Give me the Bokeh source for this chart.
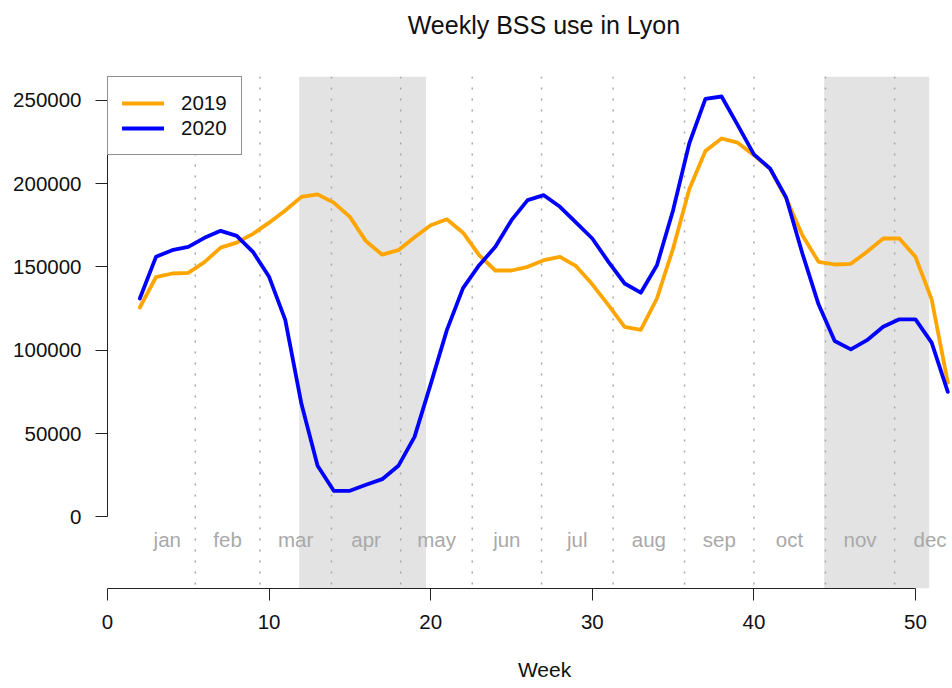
from bokeh.plotting import figure
from bokeh.models import (BoxAnnotation, Span, LinearAxis, FixedTicker, NumeralTickFormatter,
                          Range1d)
from bokeh.core.properties import value
from bokeh.embed import file_html
from bokeh.resources import INLINE

# ---- data ----
weeks = list(range(2, 53))
bss_2019 = [125600, 143800, 146000, 146400, 152800, 161500, 164500, 169800, 176500, 183800,
            192000, 193500, 188500, 180000, 165300, 157300, 160000, 167800, 175000, 178500,
            170500, 157000, 147800, 147800, 150000, 154000, 156000, 150400, 139500, 127000,
            114000, 112200, 131000, 161000, 196500, 219500, 227000, 224500, 217000, 208800,
            191000, 169000, 153000, 151400, 151800, 159000, 167000, 167000, 156000, 130500,
            80500]
bss_2020 = [131000, 156000, 160000, 162000, 167400, 171600, 168600, 159000, 144000, 118200,
            67800, 30600, 15600, 15600, 19200, 22600, 30600, 48000, 79600, 112000,
            137200, 151000, 162000, 178000, 190000, 193000, 186000, 176500, 167000, 153000,
            140000, 134500, 151000, 184000, 224000, 250800, 252200, 235000, 217500, 209000,
            191500, 158000, 127500, 105500, 100500, 106000, 114000, 118500, 118500, 104500,
            75000]
month_names = ["jan", "feb", "mar", "apr", "may", "jun", "jul", "aug", "sep", "oct", "nov", "dec"]
month_label_week = [3.7, 7.43, 11.64, 16.0, 20.36, 24.71, 29.07, 33.5, 37.86, 42.2, 46.57, 50.9]
month_start_week = [5.43, 9.43, 13.86, 18.14, 22.57, 26.86, 31.29, 35.71, 40.0, 44.43, 48.71]
lockdown_start = [11.86, 44.35]
lockdown_end = [19.71, 50.85]
x_ticks = [0, 10, 20, 30, 40, 50]
y_ticks = [0, 50000, 100000, 150000, 200000, 250000]

FONT = "Liberation Sans"
NBSP = "\u00a0"

p = figure(width=952, height=688, output_backend="svg", toolbar_location=None,
           x_range=Range1d(0, 52.29), y_range=Range1d(-43000, 264200),
           min_border_left=107, min_border_right=0, min_border_top=76, min_border_bottom=100)
p.outline_line_color = None
p.grid.visible = False
p.background_fill_color = "white"

for s, e in zip(lockdown_start, lockdown_end):
    p.add_layout(BoxAnnotation(left=s, right=e, fill_color="#e3e3e3", fill_alpha=1,
                               line_color=None, level="underlay"))

for m in month_start_week:
    p.add_layout(Span(location=m, dimension="height", line_color="#a8a8a8",
                      line_width=1.5, line_dash="2 9", level="underlay"))

p.text(x=month_label_week, y=-13400, text=month_names, text_color="#a9a9a9",
       text_font=value(FONT), text_font_size="20.5px", text_align="center",
       text_baseline="alphabetic")

p.line(weeks, bss_2019, line_color="#FFA500", line_width=3.8, line_join="round",
       line_cap="round", legend_label="2019")
p.line(weeks, bss_2020, line_color="#0000FF", line_width=3.8, line_join="round",
       line_cap="round", legend_label="2020")

# legend
lg = p.legend[0]
lg.location = "top_left"
lg.margin = 0
lg.padding = 14
lg.spacing = 1
lg.glyph_width = 42
lg.glyph_height = 20
lg.label_height = 20
lg.label_standoff = 17
lg.label_text_font = FONT
lg.label_text_font_size = "20.5px"
lg.label_text_color = "#111111"
lg.border_line_color = "#222222"
lg.border_line_width = 1
lg.background_fill_alpha = 1

# axes
for ax in (p.xaxis[0], p.yaxis[0]):
    ax.axis_line_color = "#222222"
    ax.major_tick_line_color = "#222222"
    ax.major_tick_out = 12
    ax.major_tick_in = 0
    ax.minor_tick_line_color = None
    ax.major_label_text_font = FONT
    ax.major_label_text_font_size = "20.5px"
    ax.major_label_text_color = "#111111"

p.xaxis.ticker = FixedTicker(ticks=x_ticks)
p.xaxis.bounds = (0, 50)
p.xaxis.major_label_standoff = 14
p.yaxis.ticker = FixedTicker(ticks=y_ticks)
p.yaxis.bounds = (0, 250000)
p.yaxis.formatter = NumeralTickFormatter(format="0")
p.yaxis.major_label_standoff = 14


def label_axis(text, size, standoff):
    ax = LinearAxis(ticker=FixedTicker(ticks=[]), bounds=(26, 28), axis_line_color=None,
                    major_tick_line_color=None, minor_tick_line_color=None,
                    major_tick_out=0, major_tick_in=0, major_label_standoff=0,
                    axis_label=text, axis_label_standoff=standoff,
                    axis_label_text_font=FONT, axis_label_text_font_size=size,
                    axis_label_text_font_style="normal", axis_label_text_color="#111111")
    return ax


# title (above) and axis title (below); leading no-break spaces shift the centred
# labels right so they sit over the centre of the original (wider) plot region
p.add_layout(label_axis(NBSP * 4 + "Weekly BSS use in Lyon", "25px", 38), "above")
p.add_layout(label_axis(NBSP * 5 + "Week", "21px", 26), "below")

open("out.html", "w").write(file_html(p, INLINE))
